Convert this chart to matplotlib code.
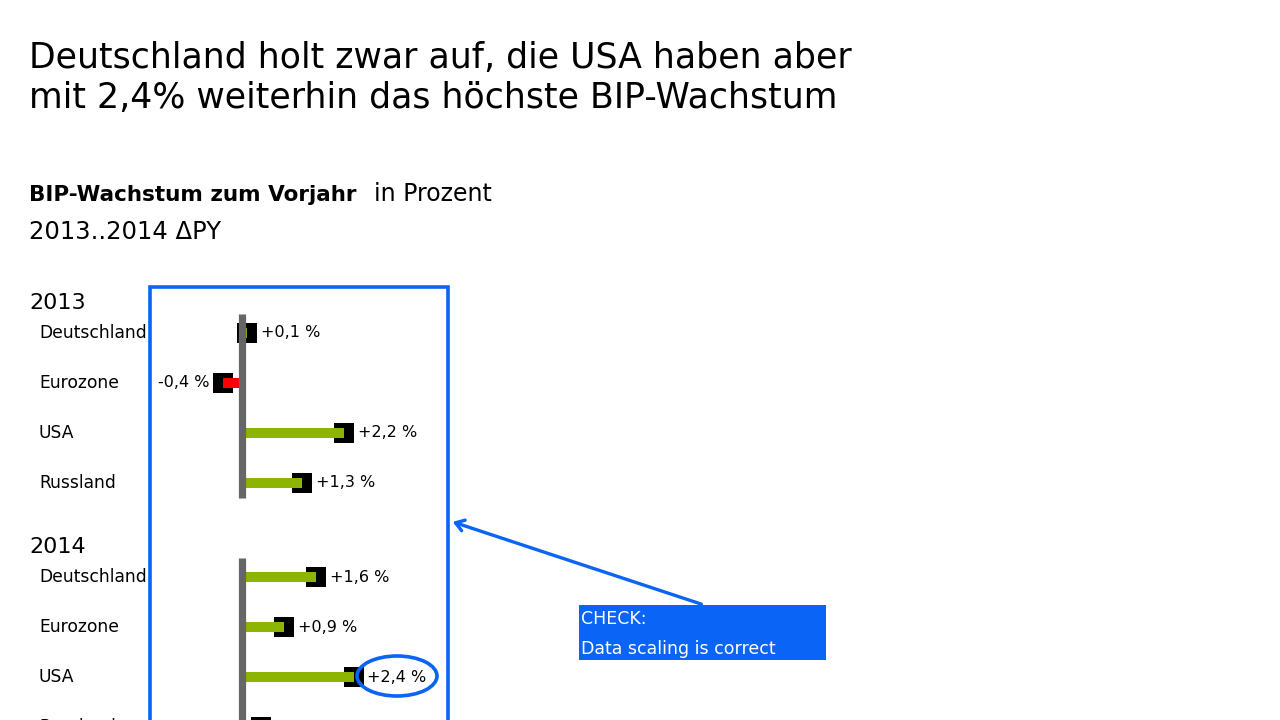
import matplotlib
matplotlib.use("Agg")
import matplotlib.pyplot as plt
from matplotlib.transforms import blended_transform_factory
from matplotlib.patches import Rectangle, Ellipse, FancyArrowPatch

# ---- data ----
years = ["2013", "2014"]
countries = ["Deutschland", "Eurozone", "USA", "Russland"]
growth_2013 = [0.1, -0.4, 2.2, 1.3]
growth_2014 = [1.6, 0.9, 2.4, 0.4]
title_lines = ["Deutschland holt zwar auf, die USA haben aber",
               "mit 2,4% weiterhin das höchste BIP-Wachstum"]
check_lines = ["CHECK:", "Data scaling is correct"]

GREEN = "#8CB400"
RED = "#FF0000"
GRAY = "#666666"
BLUE = "#0A64F5"
TFONT = ["DejaVu Sans"]
LFONT = ["DejaVu Sans"]

W, H = 1280, 720
fig = plt.figure(figsize=(12.8, 7.2), dpi=100)
fig.patch.set_facecolor("white")

# axes over full figure: x in %, y in row units
ax = fig.add_axes([0, 0, 1, 1])
px_per_pct = 46.5
x0_px = 242
ax.set_xlim(-x0_px / px_per_pct, (W - x0_px) / px_per_pct)
row_px = 50
y0_px = 333
ax.set_ylim((H - y0_px) / row_px, -y0_px / row_px)
ax.axis("off")

group_offset = 4.88
series = [growth_2013, growth_2014]
fx = lambda px: px / W
fy = lambda py: 1 - py / H
blend = blended_transform_factory(fig.transFigure, ax.transData)

for g, (yr, vals) in enumerate(zip(years, series)):
    base = g * group_offset
    ys = [base + i for i in range(len(countries))]
    # year header
    ax.text(fx(29), base - 0.48, yr, transform=blend, fontsize=16,
            family=TFONT, va="baseline", ha="left", color="black")
    # gray baseline axis
    ax.plot([0, 0], [base - 0.38, base + len(countries) - 1 + 0.3],
            color=GRAY, lw=5.2, solid_capstyle="butt", zorder=4)
    for y, c, v in zip(ys, countries, vals):
        ax.plot([v], [y], marker="s", markersize=14, color="black",
                markeredgewidth=0, linestyle="none", zorder=2)
        ax.barh(y, v, height=0.2, left=0, color=GREEN if v >= 0 else RED,
                zorder=3)
        lbl = ("+" if v >= 0 else "-") + f"{abs(v):.1f}".replace(".", ",") + " %"
        off = 10 if v >= 0 else -10
        ax.annotate(lbl, (v, y), xytext=(off, 0), textcoords="offset points",
                    ha="left" if v >= 0 else "right", va="center",
                    fontsize=11.5, family=LFONT, color="black", zorder=5)
        ax.text(fx(39), y, c, transform=blend, fontsize=12.3, family=TFONT,
                ha="left", va="center", color="black")

# title
fig.text(fx(29), fy(68), title_lines[0], fontsize=25, family=TFONT,
         ha="left", va="baseline")
fig.text(fx(29), fy(108), title_lines[1], fontsize=25, family=TFONT,
         ha="left", va="baseline")
# subtitle
fig.text(fx(29), fy(201), "BIP-Wachstum zum Vorjahr", fontsize=15.5,
         family=TFONT, weight="bold", ha="left", va="baseline")
fig.text(fx(374), fy(201), "in Prozent", fontsize=17, family=TFONT,
         ha="left", va="baseline")
fig.text(fx(29), fy(239), "2013..2014 \u0394PY", fontsize=17.5, family=TFONT,
         ha="left", va="baseline")

# blue check frame
fig.patches.append(Rectangle((fx(150), fy(760)), fx(298), (760 - 287) / H,
                             transform=fig.transFigure, fill=False,
                             edgecolor=BLUE, lw=2.6, zorder=10))
# check box
fig.patches.append(Rectangle((fx(579), fy(660)), fx(247), 55 / H,
                             transform=fig.transFigure, facecolor=BLUE,
                             edgecolor="none", zorder=10))
fig.text(fx(581), fy(619), check_lines[0], fontsize=12.5, family=TFONT,
         color="white", ha="left", va="center", zorder=11)
fig.text(fx(581), fy(649), check_lines[1], fontsize=12.5, family=TFONT,
         color="white", ha="left", va="center", zorder=11)
# arrow
fig.patches.append(FancyArrowPatch((fx(704), fy(605)), (fx(450), fy(521)),
                                   transform=fig.transFigure,
                                   arrowstyle="->,head_length=6,head_width=4",
                                   color=BLUE, lw=2.4, zorder=10))
# ellipse highlight
fig.patches.append(Ellipse((fx(397), fy(676)), fx(80), 40 / H,
                           transform=fig.transFigure, fill=False,
                           edgecolor=BLUE, lw=2.6, zorder=10))

fig.savefig("out.png", dpi=100, facecolor="white")
